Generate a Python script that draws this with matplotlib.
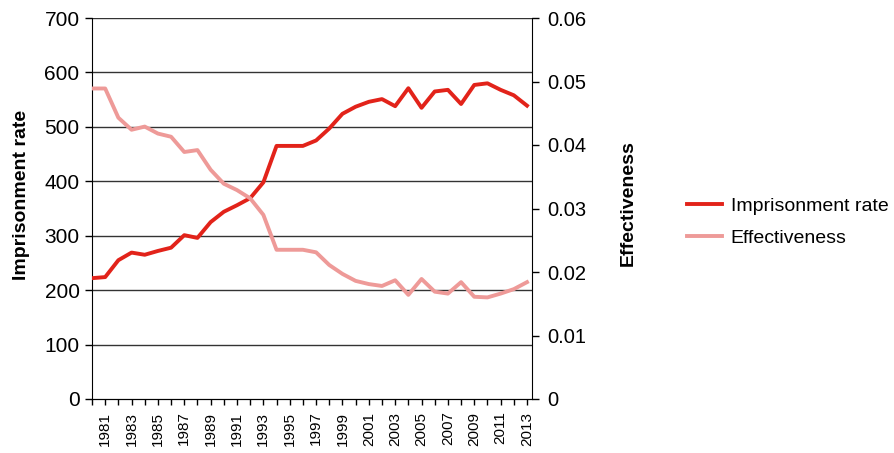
import matplotlib.pyplot as plt

# data
years = list(range(1980, 2014))
imprisonment = [222, 224, 255, 269, 265, 272, 278, 301, 296, 325, 344, 356, 369, 398,
                465, 465, 465, 475, 497, 524, 537, 546, 551, 538, 571, 535, 565, 568,
                542, 577, 580, 568, 558, 539]
effectiveness = [0.0489, 0.0489, 0.0443, 0.0424, 0.0429, 0.0418, 0.0413, 0.0389, 0.0392,
                 0.0361, 0.0339, 0.0329, 0.0316, 0.0290, 0.0235, 0.0235, 0.0235, 0.0231,
                 0.0211, 0.0197, 0.0186, 0.0181, 0.0178, 0.0187, 0.0164, 0.0189, 0.0169,
                 0.0166, 0.0184, 0.0161, 0.0160, 0.0166, 0.0173, 0.0184]
left_ticks = [0, 100, 200, 300, 400, 500, 600, 700]
right_ticks = [0, 0.01, 0.02, 0.03, 0.04, 0.05, 0.06]

plt.rcParams['font.family'] = ['Liberation Sans', 'DejaVu Sans']

red = '#e2231a'
pink = '#ee9a98'

fig = plt.figure(figsize=(8.94, 4.53), dpi=100)
ax = fig.add_axes([92/894, 1-399/453, 440/894, 381/453])
ax2 = ax.twinx()

l1, = ax.plot(years, imprisonment, color=red, lw=2.8, label='Imprisonment rate', zorder=3)
l2, = ax2.plot(years, effectiveness, color=pink, lw=2.8, label='Effectiveness', zorder=3)

ax.set_xlim(1980, 2013.38)
ax.set_ylim(0, 700)
ax2.set_ylim(0, 0.06)
ax.set_yticks(left_ticks)
ax2.set_yticks(right_ticks)
ax2.set_yticklabels(['0' if v == 0 else f'{v:.2f}' for v in right_ticks])

ax.set_xticks(years)
ax.set_xticklabels([str(y) if y % 2 == 1 else '' for y in years], rotation=90)

for y in left_ticks[1:]:
    ax.axhline(y, color='#333333', lw=1, zorder=1)

for a in (ax, ax2):
    a.spines['top'].set_visible(False)
    a.tick_params(direction='out', length=5, width=1, colors='black')
ax.spines['right'].set_visible(False)
ax2.spines['left'].set_visible(False)
ax.tick_params(axis='y', labelsize=15, pad=4)
ax2.tick_params(axis='y', labelsize=14.5, pad=6)
ax.tick_params(axis='x', length=4, pad=5, labelsize=11)

# axis titles
fig.text(22/894, 1-195/453, 'Imprisonment rate', rotation=90, ha='center', va='center',
         fontsize=14, fontweight='bold')
fig.text(628/894, 1-203/453, 'Effectiveness', rotation=90, ha='center', va='center',
         fontsize=14, fontweight='bold')

fig.legend(handles=[l1, l2], loc='center left', bbox_to_anchor=(687/894, 1-222/453),
           frameon=False, fontsize=14, handlelength=1.8, handletextpad=0.45,
           labelspacing=0.75, borderpad=0, borderaxespad=0)

fig.savefig('out.png', dpi=100)
